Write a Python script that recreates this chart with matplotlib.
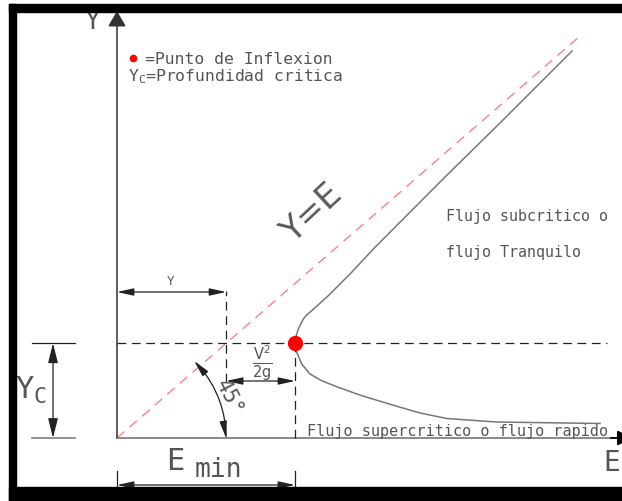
import matplotlib.pyplot as plt
from matplotlib.patches import Arc, Rectangle

# ---- datos del diagrama (unidades del dibujo) ----
yc = 1.885        # profundidad critica
e_min = 3.076     # energia especifica minima

# recta Y = E
line_e = [0.0, 8.0]
line_y = [0.0, 8.0]

# curva de energia especifica (rama inferior -> rama superior)
curve_e = [8.346, 6.561, 5.697, 5.233, 4.803, 4.228, 3.824, 3.537, 3.335, 3.191,
           3.105, 3.076, 3.088, 3.133, 3.219, 3.278, 3.364, 3.651, 4.055, 4.429,
           5.633, 6.670, 7.862]
curve_y = [0.289, 0.318, 0.388, 0.498, 0.643, 0.842, 1.009, 1.140, 1.274, 1.473,
           1.706, 1.885, 2.004, 2.169, 2.368, 2.448, 2.533, 2.832, 3.298, 3.761,
           5.154, 6.328, 7.701]

# ---- escala del dibujo (pixeles) ----
W, H = 622, 502
ORIGIN = (117, 439)
SX, SY = 57.875, 50.25

TXT = "#555555"
GRAY = "#808080"
DARK = "#222222"
MONO = "DejaVu Sans Mono"


def px(x, y):
    """posicion en pixeles -> fraccion de figura (solo para textos y marco)"""
    return x / W, 1 - y / H


def to_data(x, y):
    return (x - ORIGIN[0]) / SX, (ORIGIN[1] - y) / SY


def label(x, y, s, size, ha="left", **kw):
    fig.text(*px(x, y), s, color=TXT, fontsize=size, family=MONO,
             ha=ha, va="center", **kw)


fig = plt.figure(figsize=(W / 100, H / 100), dpi=100)
ax = fig.add_axes([0, 0, 1, 1])
ax.set_xlim(-ORIGIN[0] / SX, (W - ORIGIN[0]) / SX)
ax.set_ylim(-(H - ORIGIN[1]) / SY, ORIGIN[1] / SY)
ax.axis("off")

arrow_small = dict(arrowstyle="<|-|>,head_length=1.0,head_width=0.22",
                   mutation_scale=10, lw=0.9, color=DARK, shrinkA=0, shrinkB=0)

# ejes
ax.annotate("", xy=(0, to_data(0, 12)[1]), xytext=(0, 0), annotation_clip=False,
            arrowprops=dict(arrowstyle="-|>,head_length=0.95,head_width=0.55",
                            mutation_scale=10, lw=1.1, color="#333333",
                            shrinkA=0, shrinkB=0))
e_end = to_data(634, 0)[0]
ax.plot([0, e_end], [0, 0], color=GRAY, lw=1.3, clip_on=False)
ax.annotate("", xy=(e_end, 0), xytext=(e_end - 0.4, 0), annotation_clip=False,
            arrowprops=dict(arrowstyle="-|>,head_length=1.0,head_width=0.45",
                            mutation_scale=10, lw=1.3, color="black",
                            shrinkA=0, shrinkB=0))

# recta Y=E y curva
ax.plot(line_e, line_y, color="#ff8080", lw=1.0, ls=(0, (7, 5)))
ax.plot(curve_e, curve_y, color="#777777", lw=1.1)

# lineas auxiliares a trazos
dash = (0, (7, 4.5))
ax.plot([0, to_data(607, 0)[0]], [yc, yc], color=DARK, lw=0.9, ls=dash)
ax.plot([yc, yc], [to_data(0, 383)[1], to_data(0, 292)[1]], color=DARK, lw=0.9, ls=dash)
ax.plot([e_min, e_min], [0, yc], color=DARK, lw=0.9, ls=dash)

# punto de inflexion
ax.plot([e_min], [yc], "o", color="#ff0000", ms=10, zorder=5)

# cota Y
y_dim = to_data(0, 293)[1]
ax.annotate("", xy=(0, y_dim), xytext=(yc, y_dim), arrowprops=arrow_small)
label(171, 282, "Y", 9, ha="center")

# cota V^2/2g
v_dim = to_data(0, 382)[1]
ax.annotate("", xy=(yc, v_dim), xytext=(e_min, v_dim), arrowprops=arrow_small)
fig.text(*px(262, 364), r"$\frac{\mathregular{V^2}}{\mathregular{2g}}$", color=TXT,
         fontsize=15, ha="center", va="center")

# cota Emin
e_dim = to_data(0, 486)[1]
for e in (0, e_min):
    ax.plot([e, e], [to_data(0, 472)[1], to_data(0, 500)[1]], color=DARK, lw=0.9)
ax.annotate("", xy=(0, e_dim), xytext=(e_min, e_dim), arrowprops=arrow_small)
label(166, 462, "E", 22)
label(195, 470, "min", 19)

# cota Yc
x_l0, x_l1 = to_data(32, 0)[0], to_data(75, 0)[0]
ax.plot([x_l0, x_l1], [yc, yc], color=DARK, lw=0.9)
ax.plot([x_l0, x_l1], [0, 0], color=GRAY, lw=1.2)
x_yc = to_data(53, 0)[0]
ax.annotate("", xy=(x_yc, yc), xytext=(x_yc, 0),
            arrowprops=dict(arrowstyle="<|-|>,head_length=1.2,head_width=0.3",
                            mutation_scale=10, lw=0.9, color=DARK,
                            shrinkA=0, shrinkB=0))
label(15, 390, r"Y$_{\mathregular{C}}$", 22)

# angulo de 45 grados
r_px = yc * SX
ax.add_patch(Arc((0, 0), 2 * r_px / SX, 2 * r_px / SY, theta1=0, theta2=45,
                 color=DARK, lw=0.9))
ax.annotate("", xy=(yc, 0), xytext=(yc * 0.98, 0.25),
            arrowprops=dict(arrowstyle="-|>,head_length=1.0,head_width=0.22",
                            mutation_scale=10, lw=0.9, color=DARK,
                            shrinkA=0, shrinkB=0))
ax.annotate("", xy=(r_px * 0.707 / SX, r_px * 0.707 / SY),
            xytext=(r_px * 0.80 / SX, r_px * 0.60 / SY),
            arrowprops=dict(arrowstyle="-|>,head_length=1.0,head_width=0.22",
                            mutation_scale=10, lw=0.9, color=DARK,
                            shrinkA=0, shrinkB=0))
label(229, 398, "45°", 15, ha="center", rotation=-62)

# textos
label(92, 22, "Y", 19, ha="center")
label(612, 463, "E", 20, ha="center")
fig.text(*px(312, 213), "Y=E", color=TXT, fontsize=24, rotation=43,
         ha="center", va="center")

ax.plot(*to_data(133, 59), "o", color="#ff0000", ms=4.5)
label(145, 59, "=Punto de Inflexion", 11.8)
label(128, 77, r"Y$_{\mathregular{C}}$=Profundidad critica", 11.8)

label(446, 216, "Flujo subcritico o", 10.8)
label(446, 253, "flujo Tranquilo", 10.8)
label(307, 432, "Flujo supercritico o flujo rapido", 10.9)

# marco
for x0, y0, x1, y1 in [(8.5, 5, 16, 502), (8.5, 5, 622, 12.7), (8.5, 488, 622, 502)]:
    fig.add_artist(Rectangle(px(x0, y1), (x1 - x0) / W, (y1 - y0) / H,
                             transform=fig.transFigure, color="black", zorder=10))

fig.savefig("out.png", dpi=100)
